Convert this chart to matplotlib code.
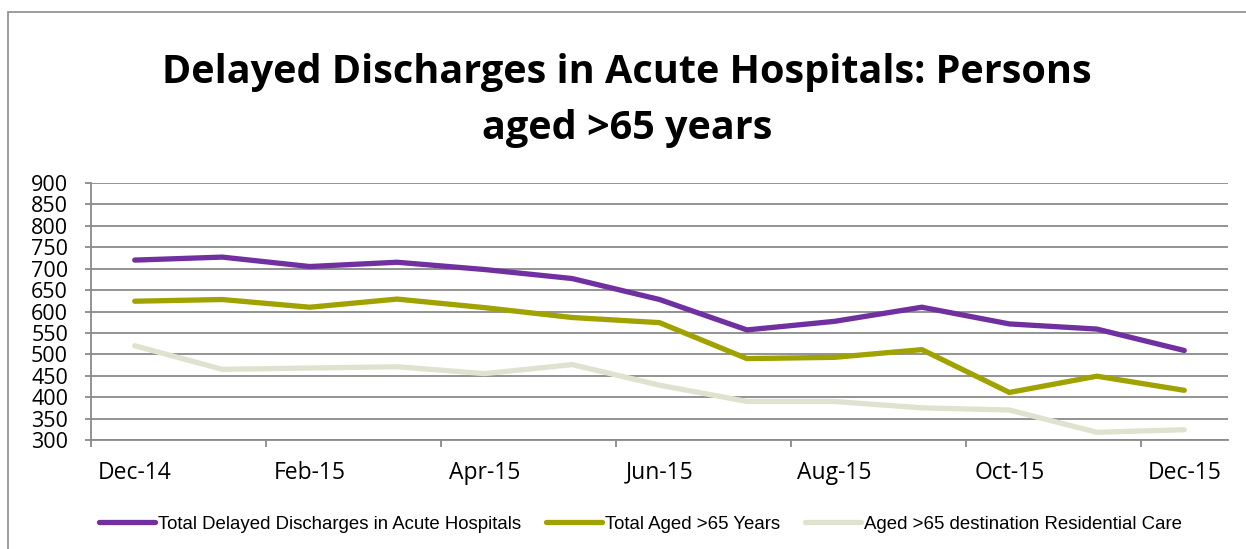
import matplotlib
matplotlib.use('Agg')
import matplotlib.pyplot as plt
from matplotlib.patches import Rectangle

months = ['Dec-14', 'Jan-15', 'Feb-15', 'Mar-15', 'Apr-15', 'May-15', 'Jun-15',
          'Jul-15', 'Aug-15', 'Sep-15', 'Oct-15', 'Nov-15', 'Dec-15']
total_delayed = [720, 727, 705, 715, 698, 677, 628, 557, 577, 610, 571, 559, 509]
total_aged65 = [624, 628, 610, 629, 609, 586, 574, 490, 493, 511, 411, 449, 416]
aged65_residential = [520, 465, 468, 471, 455, 476, 428, 390, 390, 375, 370, 318, 324]

series_names = ['Total Delayed Discharges in Acute Hospitals',
                'Total Aged >65 Years',
                'Aged >65 destination Residential Care']
colors = ['#7030A0', '#A0A200', '#DEE3CF']

fig = plt.figure(figsize=(12.46, 5.49), dpi=100)
fig.patches.append(Rectangle((8 / 1246, -0.05), 1.2, (549 - 12) / 549 + 0.05,
                             transform=fig.transFigure, fill=False,
                             edgecolor='#8c8c8c', linewidth=1.2))

ax = fig.add_axes([91 / 1246, (549 - 440) / 549, 1137 / 1246, 257 / 549])
x = list(range(len(months)))
for vals, name, c in zip([total_delayed, total_aged65, aged65_residential], series_names, colors):
    ax.plot(x, vals, color=c, linewidth=3.8, label=name, solid_capstyle='round', zorder=3)

ax.set_xlim(-0.5, 12.5)
ax.set_ylim(300, 900)
ax.set_yticks(range(300, 901, 50))
ax.yaxis.grid(True, color='#8a8a8a', linewidth=1.3)
ax.set_axisbelow(True)

# tick marks between categories, labels every other month
ax.set_xticks([i - 0.5 for i in range(0, 13, 2)])
ax.set_xticklabels([])
ax.set_xticks(x[::2], minor=True)
ax.set_xticklabels(months[::2], minor=True, fontsize=16.5, family='Open Sans')
ax.tick_params(axis='x', which='major', length=5, color='#8a8a8a', width=1.3, direction='out')
ax.tick_params(axis='x', which='minor', length=0, pad=15)
ax.tick_params(axis='y', length=4.5, color='#8a8a8a', width=1.3, labelsize=15.5, pad=12)
for lbl in ax.get_yticklabels():
    lbl.set_family('Open Sans')

for s in ['top', 'right']:
    ax.spines[s].set_visible(False)
ax.spines['left'].set_color('#8a8a8a')
ax.spines['left'].set_linewidth(1.3)
ax.spines['bottom'].set_color('#8a8a8a')
ax.spines['bottom'].set_linewidth(1.3)

fig.text(0.503, 0.817, 'Delayed Discharges in Acute Hospitals: Persons\naged >65 years',
         ha='center', va='center', fontsize=28.5, fontweight='bold', family='Open Sans',
         linespacing=1.55)

fig.legend(loc='center', bbox_to_anchor=(0.514, 0.045), ncol=3, frameon=False,
           prop={'family': 'Liberation Sans', 'size': 13.4}, handlelength=3.0,
           handletextpad=0.15, columnspacing=1.35)

fig.savefig('out.png', dpi=100)
